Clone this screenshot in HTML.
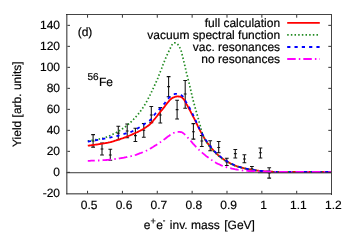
<!DOCTYPE html>
<html><head><meta charset="utf-8"><title>plot</title>
<style>
html,body{margin:0;padding:0;background:#fff;overflow:hidden}
svg{display:block}
text{font-family:"Liberation Sans",sans-serif;font-size:12px;fill:#000;stroke:#000;stroke-width:0.18px}
</style></head><body>
<svg style="will-change:transform" width="350" height="245" viewBox="0 0 350 245">
<rect width="350" height="245" fill="#fff"/>

<g stroke="#3a3a3a" stroke-width="1" fill="none">
<line x1="66.5" y1="172.72" x2="331.5" y2="172.72"/>
</g>
<g stroke="#111" stroke-width="1.05" fill="none">
<path d="M93.1,134.6V147.1M91.2,134.6h3.8M91.2,147.1h3.8M91.7,140.9h2.8"/>
<path d="M102.0,142.9V154.9M100.1,142.9h3.8M100.1,154.9h3.8M100.6,148.9h2.8"/>
<path d="M110.3,149.2V160.2M108.4,149.2h3.8M108.4,160.2h3.8M108.9,154.9h2.8"/>
<path d="M118.3,126.3V139.7M116.4,126.3h3.8M116.4,139.7h3.8M116.9,133.1h2.8"/>
<path d="M127.2,124.0V137.8M125.3,124.0h3.8M125.3,137.8h3.8M125.8,130.9h2.8"/>
<path d="M135.4,128.3V141.5M133.5,128.3h3.8M133.5,141.5h3.8M134.0,135.6h2.8"/>
<path d="M143.8,123.4V137.3M141.9,123.4h3.8M141.9,137.3h3.8M142.4,130.3h2.8"/>
<path d="M151.3,106.5V122.6M149.4,106.5h3.8M149.4,122.6h3.8M149.9,115.0h2.8"/>
<path d="M160.3,107.6V123.0M158.4,107.6h3.8M158.4,123.0h3.8M158.9,115.0h2.8"/>
<path d="M168.6,76.6V96.8M166.7,76.6h3.8M166.7,96.8h3.8M167.2,86.6h2.8"/>
<path d="M177.1,100.2V119.0M175.2,100.2h3.8M175.2,119.0h3.8M175.7,109.6h2.8"/>
<path d="M185.2,80.4V108.3M183.3,80.4h3.8M183.3,108.3h3.8M183.8,94.0h2.8"/>
<path d="M193.4,123.6V139.1M191.5,123.6h3.8M191.5,139.1h3.8M192.0,131.7h2.8"/>
<path d="M201.8,135.5V146.5M199.9,135.5h3.8M199.9,146.5h3.8M200.4,141.0h2.8"/>
<path d="M210.2,140.8V150.7M208.3,140.8h3.8M208.3,150.7h3.8M208.8,146.0h2.8"/>
<path d="M218.7,141.5V152.8M216.8,141.5h3.8M216.8,152.8h3.8M217.3,147.5h2.8"/>
<path d="M226.8,158.3V165.5M224.9,158.3h3.8M224.9,165.5h3.8M225.4,162.0h2.8"/>
<path d="M235.3,149.4V157.9M233.4,149.4h3.8M233.4,157.9h3.8M233.9,153.6h2.8"/>
<path d="M244.4,154.8V162.8M242.5,154.8h3.8M242.5,162.8h3.8M243.0,158.9h2.8"/>
<path d="M251.9,166.4V171.0M250.0,166.4h3.8M250.0,171.0h3.8M250.5,168.7h2.8"/>
<path d="M260.4,147.9V157.9M258.5,147.9h3.8M258.5,157.9h3.8M259.0,152.8h2.8"/>
<path d="M269.2,167.7V178.1M267.3,167.7h3.8M267.3,178.1h3.8M267.8,173.0h2.8"/>
</g>
<g fill="none" stroke-linejoin="round">
<path d="M87.8,145.7 L88.4,145.6 L89.0,145.6 L89.6,145.5 L90.2,145.4 L90.8,145.3 L91.5,145.2 L92.1,145.2 L92.7,145.1 L93.3,145.0 L93.9,144.9 L94.5,144.8 L95.1,144.7 L95.7,144.6 L96.3,144.6 L96.9,144.5 L97.6,144.4 L98.2,144.3 L98.8,144.2 L99.4,144.1 L100.0,144.0 L100.6,143.9 L101.2,143.8 L101.8,143.7 L102.4,143.6 L103.0,143.5 L103.6,143.4 L104.3,143.3 L104.9,143.2 L105.5,143.1 L106.1,143.0 L106.7,142.9 L107.3,142.8 L107.9,142.7 L108.5,142.5 L109.1,142.4 L109.7,142.3 L110.4,142.2 L111.0,142.0 L111.6,141.9 L112.2,141.7 L112.8,141.5 L113.4,141.3 L114.0,141.1 L114.6,140.9 L115.2,140.7 L115.8,140.5 L116.4,140.3 L117.1,140.1 L117.7,139.9 L118.3,139.7 L118.9,139.5 L119.5,139.3 L120.1,139.1 L120.7,138.9 L121.3,138.7 L121.9,138.5 L122.5,138.3 L123.2,138.1 L123.8,137.8 L124.4,137.6 L125.0,137.4 L125.6,137.2 L126.2,137.0 L126.8,136.7 L127.4,136.5 L128.0,136.3 L128.6,136.0 L129.2,135.7 L129.9,135.5 L130.5,135.2 L131.1,135.0 L131.7,134.7 L132.3,134.4 L132.9,134.1 L133.5,133.9 L134.1,133.6 L134.7,133.3 L135.3,133.0 L136.0,132.7 L136.6,132.5 L137.2,132.2 L137.8,131.9 L138.4,131.6 L139.0,131.3 L139.6,131.0 L140.2,130.7 L140.8,130.4 L141.4,130.0 L142.0,129.7 L142.7,129.3 L143.3,129.0 L143.9,128.6 L144.5,128.2 L145.1,127.8 L145.7,127.4 L146.3,127.0 L146.9,126.6 L147.5,126.2 L148.1,125.7 L148.8,125.2 L149.4,124.7 L150.0,124.2 L150.6,123.6 L151.2,123.0 L151.8,122.4 L152.4,121.7 L153.0,121.0 L153.6,120.2 L154.2,119.5 L154.8,118.8 L155.5,118.0 L156.1,117.2 L156.7,116.5 L157.3,115.7 L157.9,114.9 L158.5,114.1 L159.1,113.4 L159.7,112.6 L160.3,111.9 L160.9,111.1 L161.6,110.4 L162.2,109.6 L162.8,108.9 L163.4,108.1 L164.0,107.4 L164.6,106.6 L165.2,105.8 L165.8,105.0 L166.4,104.2 L167.0,103.4 L167.6,102.6 L168.3,101.9 L168.9,101.2 L169.5,100.4 L170.1,99.8 L170.7,99.2 L171.3,98.7 L171.9,98.3 L172.5,97.9 L173.1,97.6 L173.7,97.3 L174.4,97.1 L175.0,96.9 L175.6,96.7 L176.2,96.6 L176.8,96.5 L177.4,96.4 L178.0,96.4 L178.6,96.5 L179.2,96.5 L179.8,96.7 L180.4,96.8 L181.1,96.9 L181.7,97.3 L182.3,97.8 L182.9,98.4 L183.5,99.0 L184.1,99.8 L184.7,100.8 L185.3,101.9 L185.9,103.1 L186.5,104.2 L187.2,105.3 L187.8,106.4 L188.4,107.5 L189.0,108.7 L189.6,109.8 L190.2,110.9 L190.8,112.0 L191.4,113.2 L192.0,114.3 L192.6,115.5 L193.2,116.7 L193.9,117.9 L194.5,119.1 L195.1,120.3 L195.7,121.6 L196.3,122.9 L196.9,124.1 L197.5,125.4 L198.1,126.7 L198.7,127.9 L199.3,129.1 L200.0,130.3 L200.6,131.5 L201.2,132.6 L201.8,133.7 L202.4,134.8 L203.0,135.8 L203.6,136.9 L204.2,137.9 L204.8,139.0 L205.4,140.0 L206.0,140.9 L206.7,141.9 L207.3,142.8 L207.9,143.6 L208.5,144.4 L209.1,145.2 L209.7,146.0 L210.3,146.8 L210.9,147.6 L211.5,148.3 L212.1,149.0 L212.8,149.7 L213.4,150.4 L214.0,151.1 L214.6,151.7 L215.2,152.3 L215.8,152.9 L216.4,153.5 L217.0,154.1 L217.6,154.6 L218.2,155.2 L218.8,155.7 L219.5,156.2 L220.1,156.7 L220.7,157.2 L221.3,157.6 L221.9,158.1 L222.5,158.6 L223.1,159.0 L223.7,159.4 L224.3,159.8 L224.9,160.2 L225.6,160.6 L226.2,161.0 L226.8,161.3 L227.4,161.7 L228.0,162.1 L228.6,162.4 L229.2,162.7 L229.8,163.1 L230.4,163.4 L231.0,163.7 L231.6,164.0 L232.3,164.3 L232.9,164.6 L233.5,164.8 L234.1,165.1 L234.7,165.4 L235.3,165.6 L235.9,165.8 L236.5,166.1 L237.1,166.3 L237.7,166.5 L238.4,166.7 L239.0,166.9 L239.6,167.1 L240.2,167.2 L240.8,167.4 L241.4,167.6 L242.0,167.7 L242.6,167.9 L243.2,168.0 L243.8,168.2 L244.4,168.3 L245.1,168.5 L245.7,168.6 L246.3,168.8 L246.9,168.9 L247.5,169.0 L248.1,169.2 L248.7,169.3 L249.3,169.4 L249.9,169.5 L250.5,169.6 L251.2,169.7 L251.8,169.8 L252.4,169.9 L253.0,170.0 L253.6,170.1 L254.2,170.2 L254.8,170.3 L255.4,170.4 L256.0,170.4 L256.6,170.5 L257.2,170.6 L257.9,170.7 L258.5,170.7 L259.1,170.8 L259.7,170.9 L260.3,170.9 L260.9,171.0 L261.5,171.1 L262.1,171.1 L262.7,171.2 L263.3,171.2 L264.0,171.3 L264.6,171.3 L265.2,171.4 L265.8,171.4 L266.4,171.5 L267.0,171.5 L267.6,171.6 L268.2,171.6 L268.8,171.6 L269.4,171.6 L270.0,171.7 L270.7,171.7 L271.3,171.7 L271.9,171.7 L272.5,171.7 L273.1,171.8 L273.7,171.8 L274.3,171.8 L274.9,171.8 L275.5,171.8 L276.1,171.8 L276.8,171.8 L277.4,171.8 L278.0,171.8 L278.6,171.8 L279.2,171.8 L279.8,171.8 L280.4,171.8 L281.0,171.8 L281.6,171.8 L282.2,171.8 L282.8,171.8 L283.5,171.8 L284.1,171.8 L284.7,171.8 L285.3,171.8 L285.9,171.8 L286.5,171.8 L287.1,171.8 L287.7,171.8 L288.3,171.8 L288.9,171.8 L289.6,171.8 L290.2,171.8 L290.8,171.8 L291.4,171.8 L292.0,171.8 L292.6,171.8 L293.2,171.8 L293.8,171.8 L294.4,171.8 L295.0,171.8 L295.6,171.8 L296.3,171.8 L296.9,171.8 L297.5,171.8 L298.1,171.8 L298.7,171.8 L299.3,171.8 L299.9,171.8 L300.5,171.8 L301.1,171.8 L301.7,171.8 L302.4,171.8 L303.0,171.8 L303.6,171.8 L304.2,171.8 L304.8,171.8 L305.4,171.8 L306.0,171.8 L306.6,171.8 L307.2,171.8 L307.8,171.8 L308.4,171.8 L309.1,171.8 L309.7,171.8 L310.3,171.8 L310.9,171.8 L311.5,171.8 L312.1,171.8 L312.7,171.8 L313.3,171.8 L313.9,171.8 L314.5,171.8 L315.2,171.8 L315.8,171.8 L316.4,171.8 L317.0,171.8 L317.6,171.8 L318.2,171.8 L318.8,171.8 L319.4,171.8 L320.0,171.8 L320.6,171.8 L321.2,171.8 L321.9,171.8 L322.5,171.8 L323.1,171.8 L323.7,171.8 L324.3,171.8 L324.9,171.8 L325.5,171.8 L326.1,171.8 L326.7,171.8 L327.3,171.8 L328.0,171.8 L328.6,171.8 L329.2,171.8 L329.8,171.8 L330.4,171.8 L331.0,171.8" stroke="#ff0000" stroke-width="1.8"/>
<path d="M87.8,141.0 L88.4,140.9 L89.0,140.8 L89.6,140.7 L90.2,140.6 L90.8,140.5 L91.5,140.4 L92.1,140.3 L92.7,140.2 L93.3,140.1 L93.9,140.0 L94.5,139.9 L95.1,139.8 L95.7,139.7 L96.3,139.6 L96.9,139.5 L97.6,139.3 L98.2,139.2 L98.8,139.1 L99.4,139.0 L100.0,138.9 L100.6,138.8 L101.2,138.6 L101.8,138.5 L102.4,138.3 L103.0,138.2 L103.6,138.0 L104.3,137.8 L104.9,137.6 L105.5,137.4 L106.1,137.2 L106.7,137.0 L107.3,136.8 L107.9,136.5 L108.5,136.3 L109.1,136.0 L109.7,135.7 L110.4,135.5 L111.0,135.2 L111.6,134.9 L112.2,134.6 L112.8,134.3 L113.4,134.0 L114.0,133.7 L114.6,133.4 L115.2,133.0 L115.8,132.7 L116.4,132.4 L117.1,132.0 L117.7,131.7 L118.3,131.4 L118.9,131.0 L119.5,130.7 L120.1,130.3 L120.7,129.9 L121.3,129.5 L121.9,129.1 L122.5,128.7 L123.2,128.3 L123.8,127.9 L124.4,127.4 L125.0,127.0 L125.6,126.5 L126.2,126.0 L126.8,125.5 L127.4,125.0 L128.0,124.5 L128.6,124.0 L129.2,123.5 L129.9,122.9 L130.5,122.4 L131.1,121.8 L131.7,121.2 L132.3,120.6 L132.9,120.0 L133.5,119.4 L134.1,118.7 L134.7,118.1 L135.3,117.4 L136.0,116.7 L136.6,116.0 L137.2,115.3 L137.8,114.6 L138.4,113.9 L139.0,113.1 L139.6,112.3 L140.2,111.5 L140.8,110.7 L141.4,109.9 L142.0,109.0 L142.7,108.1 L143.3,107.2 L143.9,106.3 L144.5,105.3 L145.1,104.3 L145.7,103.3 L146.3,102.2 L146.9,101.1 L147.5,99.9 L148.1,98.7 L148.8,97.5 L149.4,96.3 L150.0,95.1 L150.6,93.8 L151.2,92.6 L151.8,91.4 L152.4,90.1 L153.0,88.8 L153.6,87.5 L154.2,86.2 L154.8,84.9 L155.5,83.6 L156.1,82.2 L156.7,80.8 L157.3,79.4 L157.9,78.0 L158.5,76.5 L159.1,74.9 L159.7,73.3 L160.3,71.7 L160.9,70.1 L161.6,68.5 L162.2,66.9 L162.8,65.3 L163.4,63.8 L164.0,62.3 L164.6,60.8 L165.2,59.4 L165.8,57.9 L166.4,56.5 L167.0,55.1 L167.6,53.7 L168.3,52.4 L168.9,51.1 L169.5,49.8 L170.1,48.6 L170.7,47.3 L171.3,46.1 L171.9,45.0 L172.5,44.3 L173.1,43.6 L173.7,43.0 L174.4,42.8 L175.0,42.9 L175.6,43.1 L176.2,43.3 L176.8,43.7 L177.4,44.1 L178.0,44.7 L178.6,45.5 L179.2,46.5 L179.8,47.6 L180.4,48.9 L181.1,50.7 L181.7,52.9 L182.3,55.3 L182.9,57.7 L183.5,60.2 L184.1,62.6 L184.7,65.1 L185.3,67.7 L185.9,70.4 L186.5,73.0 L187.2,75.5 L187.8,78.0 L188.4,80.4 L189.0,82.8 L189.6,85.3 L190.2,87.8 L190.8,90.4 L191.4,93.0 L192.0,95.5 L192.6,98.1 L193.2,100.6 L193.9,103.0 L194.5,105.3 L195.1,107.5 L195.7,109.6 L196.3,111.8 L196.9,113.9 L197.5,116.0 L198.1,118.1 L198.7,120.2 L199.3,122.4 L200.0,124.7 L200.6,127.1 L201.2,129.4 L201.8,131.5 L202.4,133.4 L203.0,135.0 L203.6,136.5 L204.2,137.8 L204.8,139.1 L205.4,140.3 L206.0,141.4 L206.7,142.4 L207.3,143.4 L207.9,144.3 L208.5,145.1 L209.1,145.9 L209.7,146.7 L210.3,147.5 L210.9,148.2 L211.5,148.9 L212.1,149.6 L212.8,150.3 L213.4,150.9 L214.0,151.6 L214.6,152.2 L215.2,152.8 L215.8,153.4 L216.4,153.9 L217.0,154.5 L217.6,155.0 L218.2,155.6 L218.8,156.1 L219.5,156.6 L220.1,157.1 L220.7,157.5 L221.3,158.0 L221.9,158.5 L222.5,158.9 L223.1,159.3 L223.7,159.7 L224.3,160.1 L224.9,160.5 L225.6,160.9 L226.2,161.3 L226.8,161.7 L227.4,162.0 L228.0,162.3 L228.6,162.7 L229.2,163.0 L229.8,163.3 L230.4,163.6 L231.0,164.0 L231.6,164.3 L232.3,164.5 L232.9,164.8 L233.5,165.1 L234.1,165.4 L234.7,165.6 L235.3,165.8 L235.9,166.1 L236.5,166.3 L237.1,166.5 L237.7,166.7 L238.4,166.8 L239.0,167.0 L239.6,167.2 L240.2,167.3 L240.8,167.5 L241.4,167.6 L242.0,167.8 L242.6,167.9 L243.2,168.1 L243.8,168.2 L244.4,168.4 L245.1,168.5 L245.7,168.6 L246.3,168.8 L246.9,168.9 L247.5,169.0 L248.1,169.2 L248.7,169.3 L249.3,169.4 L249.9,169.5 L250.5,169.6 L251.2,169.7 L251.8,169.8 L252.4,169.9 L253.0,170.0 L253.6,170.1 L254.2,170.2 L254.8,170.3 L255.4,170.4 L256.0,170.4 L256.6,170.5 L257.2,170.6 L257.9,170.7 L258.5,170.7 L259.1,170.8 L259.7,170.9 L260.3,170.9 L260.9,171.0 L261.5,171.1 L262.1,171.1 L262.7,171.2 L263.3,171.2 L264.0,171.3 L264.6,171.3 L265.2,171.4 L265.8,171.4 L266.4,171.5 L267.0,171.5 L267.6,171.6 L268.2,171.6 L268.8,171.6 L269.4,171.6 L270.0,171.7 L270.7,171.7 L271.3,171.7 L271.9,171.7 L272.5,171.7 L273.1,171.8 L273.7,171.8 L274.3,171.8 L274.9,171.8 L275.5,171.8 L276.1,171.8 L276.8,171.8 L277.4,171.8 L278.0,171.8 L278.6,171.8 L279.2,171.8 L279.8,171.8 L280.4,171.8 L281.0,171.8 L281.6,171.8 L282.2,171.8 L282.8,171.8 L283.5,171.8 L284.1,171.8 L284.7,171.8 L285.3,171.8 L285.9,171.8 L286.5,171.8 L287.1,171.8 L287.7,171.8 L288.3,171.8 L288.9,171.8 L289.6,171.8 L290.2,171.8 L290.8,171.8 L291.4,171.8 L292.0,171.8 L292.6,171.8 L293.2,171.8 L293.8,171.8 L294.4,171.8 L295.0,171.8 L295.6,171.8 L296.3,171.8 L296.9,171.8 L297.5,171.8 L298.1,171.8 L298.7,171.8 L299.3,171.8 L299.9,171.8 L300.5,171.8 L301.1,171.8 L301.7,171.8 L302.4,171.8 L303.0,171.8 L303.6,171.8 L304.2,171.8 L304.8,171.8 L305.4,171.8 L306.0,171.8 L306.6,171.8 L307.2,171.8 L307.8,171.8 L308.4,171.8 L309.1,171.8 L309.7,171.8 L310.3,171.8 L310.9,171.8 L311.5,171.8 L312.1,171.8 L312.7,171.8 L313.3,171.8 L313.9,171.8 L314.5,171.8 L315.2,171.8 L315.8,171.8 L316.4,171.8 L317.0,171.8 L317.6,171.8 L318.2,171.8 L318.8,171.8 L319.4,171.8 L320.0,171.8 L320.6,171.8 L321.2,171.8 L321.9,171.8 L322.5,171.8 L323.1,171.8 L323.7,171.8 L324.3,171.8 L324.9,171.8 L325.5,171.8 L326.1,171.8 L326.7,171.8 L327.3,171.8 L328.0,171.8 L328.6,171.8 L329.2,171.8 L329.8,171.8 L330.4,171.8 L331.0,171.8" stroke="#228b22" stroke-width="1.7" stroke-dasharray="1.5 2.16"/>
<path d="M87.8,141.6 L88.4,141.5 L89.0,141.4 L89.6,141.3 L90.2,141.2 L90.8,141.1 L91.5,141.0 L92.1,140.9 L92.7,140.8 L93.3,140.7 L93.9,140.6 L94.5,140.5 L95.1,140.4 L95.7,140.3 L96.3,140.1 L96.9,140.0 L97.6,139.9 L98.2,139.8 L98.8,139.7 L99.4,139.6 L100.0,139.5 L100.6,139.4 L101.2,139.2 L101.8,139.1 L102.4,139.0 L103.0,138.9 L103.6,138.8 L104.3,138.7 L104.9,138.5 L105.5,138.4 L106.1,138.3 L106.7,138.2 L107.3,138.1 L107.9,138.0 L108.5,137.8 L109.1,137.7 L109.7,137.6 L110.4,137.5 L111.0,137.3 L111.6,137.2 L112.2,137.1 L112.8,136.9 L113.4,136.8 L114.0,136.7 L114.6,136.5 L115.2,136.4 L115.8,136.3 L116.4,136.1 L117.1,136.0 L117.7,135.8 L118.3,135.6 L118.9,135.5 L119.5,135.3 L120.1,135.1 L120.7,134.9 L121.3,134.7 L121.9,134.5 L122.5,134.3 L123.2,134.2 L123.8,134.0 L124.4,133.8 L125.0,133.6 L125.6,133.5 L126.2,133.3 L126.8,133.1 L127.4,133.0 L128.0,132.8 L128.6,132.6 L129.2,132.5 L129.9,132.3 L130.5,132.1 L131.1,131.8 L131.7,131.6 L132.3,131.3 L132.9,131.0 L133.5,130.7 L134.1,130.4 L134.7,130.1 L135.3,129.7 L136.0,129.4 L136.6,129.0 L137.2,128.7 L137.8,128.3 L138.4,127.9 L139.0,127.6 L139.6,127.2 L140.2,126.8 L140.8,126.4 L141.4,126.0 L142.0,125.6 L142.7,125.2 L143.3,124.8 L143.9,124.4 L144.5,124.0 L145.1,123.6 L145.7,123.2 L146.3,122.8 L146.9,122.5 L147.5,122.1 L148.1,121.7 L148.8,121.2 L149.4,120.8 L150.0,120.3 L150.6,119.7 L151.2,119.1 L151.8,118.4 L152.4,117.6 L153.0,116.7 L153.6,115.9 L154.2,115.1 L154.8,114.3 L155.5,113.5 L156.1,112.9 L156.7,112.2 L157.3,111.5 L157.9,110.9 L158.5,110.3 L159.1,109.6 L159.7,109.0 L160.3,108.3 L160.9,107.6 L161.6,107.0 L162.2,106.3 L162.8,105.6 L163.4,104.9 L164.0,104.1 L164.6,103.4 L165.2,102.6 L165.8,101.7 L166.4,100.8 L167.0,100.0 L167.6,99.2 L168.3,98.5 L168.9,97.9 L169.5,97.2 L170.1,96.7 L170.7,96.2 L171.3,95.7 L171.9,95.4 L172.5,95.0 L173.1,94.6 L173.7,94.3 L174.4,94.1 L175.0,93.9 L175.6,93.9 L176.2,93.9 L176.8,93.9 L177.4,94.0 L178.0,94.1 L178.6,94.1 L179.2,94.2 L179.8,94.4 L180.4,94.7 L181.1,95.1 L181.7,95.5 L182.3,95.9 L182.9,96.6 L183.5,97.5 L184.1,98.5 L184.7,99.6 L185.3,100.6 L185.9,101.7 L186.5,102.7 L187.2,103.7 L187.8,104.7 L188.4,105.8 L189.0,106.8 L189.6,107.9 L190.2,109.1 L190.8,110.2 L191.4,111.4 L192.0,112.7 L192.6,113.9 L193.2,115.2 L193.9,116.5 L194.5,117.9 L195.1,119.3 L195.7,120.6 L196.3,122.0 L196.9,123.4 L197.5,124.7 L198.1,126.0 L198.7,127.2 L199.3,128.4 L200.0,129.5 L200.6,130.7 L201.2,131.8 L201.8,133.0 L202.4,134.1 L203.0,135.2 L203.6,136.3 L204.2,137.3 L204.8,138.4 L205.4,139.4 L206.0,140.4 L206.7,141.3 L207.3,142.2 L207.9,143.1 L208.5,144.0 L209.1,144.8 L209.7,145.6 L210.3,146.4 L210.9,147.1 L211.5,147.9 L212.1,148.6 L212.8,149.3 L213.4,150.0 L214.0,150.7 L214.6,151.3 L215.2,152.0 L215.8,152.6 L216.4,153.2 L217.0,153.8 L217.6,154.3 L218.2,154.9 L218.8,155.4 L219.5,155.9 L220.1,156.4 L220.7,156.9 L221.3,157.4 L221.9,157.9 L222.5,158.3 L223.1,158.7 L223.7,159.2 L224.3,159.6 L224.9,160.0 L225.6,160.4 L226.2,160.8 L226.8,161.1 L227.4,161.5 L228.0,161.9 L228.6,162.2 L229.2,162.6 L229.8,162.9 L230.4,163.2 L231.0,163.5 L231.6,163.8 L232.3,164.1 L232.9,164.4 L233.5,164.7 L234.1,165.0 L234.7,165.3 L235.3,165.5 L235.9,165.7 L236.5,166.0 L237.1,166.2 L237.7,166.4 L238.4,166.6 L239.0,166.8 L239.6,167.0 L240.2,167.1 L240.8,167.3 L241.4,167.5 L242.0,167.6 L242.6,167.8 L243.2,167.9 L243.8,168.1 L244.4,168.2 L245.1,168.4 L245.7,168.5 L246.3,168.7 L246.9,168.8 L247.5,168.9 L248.1,169.1 L248.7,169.2 L249.3,169.3 L249.9,169.4 L250.5,169.5 L251.2,169.6 L251.8,169.7 L252.4,169.8 L253.0,169.9 L253.6,170.0 L254.2,170.1 L254.8,170.2 L255.4,170.3 L256.0,170.3 L256.6,170.4 L257.2,170.5 L257.9,170.6 L258.5,170.6 L259.1,170.7 L259.7,170.8 L260.3,170.8 L260.9,170.9 L261.5,170.9 L262.1,171.0 L262.7,171.1 L263.3,171.1 L264.0,171.2 L264.6,171.2 L265.2,171.3 L265.8,171.3 L266.4,171.4 L267.0,171.4 L267.6,171.5 L268.2,171.5 L268.8,171.6 L269.4,171.6 L270.0,171.6 L270.7,171.6 L271.3,171.7 L271.9,171.7 L272.5,171.7 L273.1,171.7 L273.7,171.7 L274.3,171.8 L274.9,171.8 L275.5,171.8 L276.1,171.8 L276.8,171.8 L277.4,171.8 L278.0,171.8 L278.6,171.8 L279.2,171.8 L279.8,171.8 L280.4,171.8 L281.0,171.8 L281.6,171.8 L282.2,171.8 L282.8,171.8 L283.5,171.8 L284.1,171.8 L284.7,171.8 L285.3,171.8 L285.9,171.8 L286.5,171.8 L287.1,171.8 L287.7,171.8 L288.3,171.8 L288.9,171.8 L289.6,171.8 L290.2,171.8 L290.8,171.8 L291.4,171.8 L292.0,171.8 L292.6,171.8 L293.2,171.8 L293.8,171.8 L294.4,171.8 L295.0,171.8 L295.6,171.8 L296.3,171.8 L296.9,171.8 L297.5,171.8 L298.1,171.8 L298.7,171.8 L299.3,171.8 L299.9,171.8 L300.5,171.8 L301.1,171.8 L301.7,171.8 L302.4,171.8 L303.0,171.8 L303.6,171.8 L304.2,171.8 L304.8,171.8 L305.4,171.8 L306.0,171.8 L306.6,171.8 L307.2,171.8 L307.8,171.8 L308.4,171.8 L309.1,171.8 L309.7,171.8 L310.3,171.8 L310.9,171.8 L311.5,171.8 L312.1,171.8 L312.7,171.8 L313.3,171.8 L313.9,171.8 L314.5,171.8 L315.2,171.8 L315.8,171.8 L316.4,171.8 L317.0,171.8 L317.6,171.8 L318.2,171.8 L318.8,171.8 L319.4,171.8 L320.0,171.8 L320.6,171.8 L321.2,171.8 L321.9,171.8 L322.5,171.8 L323.1,171.8 L323.7,171.8 L324.3,171.8 L324.9,171.8 L325.5,171.8 L326.1,171.8 L326.7,171.8 L327.3,171.8 L328.0,171.8 L328.6,171.8 L329.2,171.8 L329.8,171.8 L330.4,171.8 L331.0,171.8" stroke="#0000ff" stroke-width="1.8" stroke-dasharray="3.2 4.1"/>
<path d="M87.8,160.8 L88.4,160.8 L89.0,160.8 L89.6,160.8 L90.2,160.8 L90.8,160.7 L91.5,160.7 L92.1,160.7 L92.7,160.7 L93.3,160.7 L93.9,160.7 L94.5,160.6 L95.1,160.6 L95.7,160.6 L96.3,160.6 L96.9,160.5 L97.6,160.5 L98.2,160.5 L98.8,160.5 L99.4,160.4 L100.0,160.4 L100.6,160.4 L101.2,160.3 L101.8,160.3 L102.4,160.3 L103.0,160.2 L103.6,160.2 L104.3,160.1 L104.9,160.1 L105.5,160.1 L106.1,160.0 L106.7,160.0 L107.3,159.9 L107.9,159.9 L108.5,159.8 L109.1,159.7 L109.7,159.7 L110.4,159.6 L111.0,159.6 L111.6,159.5 L112.2,159.4 L112.8,159.4 L113.4,159.3 L114.0,159.2 L114.6,159.1 L115.2,159.0 L115.8,159.0 L116.4,158.9 L117.1,158.8 L117.7,158.7 L118.3,158.6 L118.9,158.5 L119.5,158.4 L120.1,158.3 L120.7,158.2 L121.3,158.1 L121.9,158.0 L122.5,157.9 L123.2,157.8 L123.8,157.7 L124.4,157.5 L125.0,157.4 L125.6,157.3 L126.2,157.2 L126.8,157.1 L127.4,156.9 L128.0,156.8 L128.6,156.7 L129.2,156.5 L129.9,156.4 L130.5,156.3 L131.1,156.1 L131.7,156.0 L132.3,155.8 L132.9,155.6 L133.5,155.5 L134.1,155.3 L134.7,155.1 L135.3,155.0 L136.0,154.8 L136.6,154.6 L137.2,154.4 L137.8,154.2 L138.4,153.9 L139.0,153.7 L139.6,153.4 L140.2,153.2 L140.8,153.0 L141.4,152.8 L142.0,152.5 L142.7,152.3 L143.3,152.1 L143.9,151.8 L144.5,151.6 L145.1,151.4 L145.7,151.1 L146.3,150.8 L146.9,150.5 L147.5,150.2 L148.1,149.9 L148.8,149.5 L149.4,149.2 L150.0,148.8 L150.6,148.4 L151.2,148.1 L151.8,147.7 L152.4,147.3 L153.0,147.0 L153.6,146.6 L154.2,146.2 L154.8,145.8 L155.5,145.4 L156.1,145.1 L156.7,144.7 L157.3,144.3 L157.9,143.9 L158.5,143.5 L159.1,143.0 L159.7,142.6 L160.3,142.2 L160.9,141.8 L161.6,141.3 L162.2,140.9 L162.8,140.5 L163.4,140.0 L164.0,139.6 L164.6,139.1 L165.2,138.7 L165.8,138.2 L166.4,137.7 L167.0,137.2 L167.6,136.8 L168.3,136.3 L168.9,135.9 L169.5,135.5 L170.1,135.0 L170.7,134.6 L171.3,134.2 L171.9,133.8 L172.5,133.5 L173.1,133.2 L173.7,132.9 L174.4,132.7 L175.0,132.5 L175.6,132.3 L176.2,132.2 L176.8,132.1 L177.4,131.9 L178.0,131.9 L178.6,131.8 L179.2,131.8 L179.8,131.9 L180.4,132.0 L181.1,132.1 L181.7,132.2 L182.3,132.5 L182.9,132.9 L183.5,133.4 L184.1,133.9 L184.7,134.4 L185.3,135.0 L185.9,135.6 L186.5,136.2 L187.2,136.9 L187.8,137.6 L188.4,138.3 L189.0,138.9 L189.6,139.6 L190.2,140.3 L190.8,141.0 L191.4,141.7 L192.0,142.4 L192.6,143.1 L193.2,143.8 L193.9,144.5 L194.5,145.2 L195.1,145.8 L195.7,146.5 L196.3,147.1 L196.9,147.7 L197.5,148.3 L198.1,148.9 L198.7,149.5 L199.3,150.1 L200.0,150.7 L200.6,151.2 L201.2,151.8 L201.8,152.3 L202.4,152.9 L203.0,153.4 L203.6,153.9 L204.2,154.4 L204.8,154.9 L205.4,155.4 L206.0,155.9 L206.7,156.4 L207.3,156.8 L207.9,157.3 L208.5,157.7 L209.1,158.2 L209.7,158.6 L210.3,159.0 L210.9,159.5 L211.5,159.9 L212.1,160.3 L212.8,160.7 L213.4,161.2 L214.0,161.6 L214.6,161.9 L215.2,162.3 L215.8,162.7 L216.4,163.0 L217.0,163.4 L217.6,163.7 L218.2,164.0 L218.8,164.2 L219.5,164.5 L220.1,164.8 L220.7,165.1 L221.3,165.3 L221.9,165.6 L222.5,165.8 L223.1,166.0 L223.7,166.3 L224.3,166.5 L224.9,166.7 L225.6,166.9 L226.2,167.1 L226.8,167.3 L227.4,167.5 L228.0,167.6 L228.6,167.8 L229.2,167.9 L229.8,168.1 L230.4,168.2 L231.0,168.4 L231.6,168.5 L232.3,168.7 L232.9,168.8 L233.5,168.9 L234.1,169.0 L234.7,169.2 L235.3,169.3 L235.9,169.4 L236.5,169.5 L237.1,169.6 L237.7,169.7 L238.4,169.8 L239.0,169.9 L239.6,170.0 L240.2,170.1 L240.8,170.2 L241.4,170.3 L242.0,170.4 L242.6,170.4 L243.2,170.5 L243.8,170.6 L244.4,170.7 L245.1,170.7 L245.7,170.8 L246.3,170.8 L246.9,170.8 L247.5,170.9 L248.1,170.9 L248.7,171.0 L249.3,171.0 L249.9,171.0 L250.5,171.1 L251.2,171.1 L251.8,171.1 L252.4,171.2 L253.0,171.2 L253.6,171.2 L254.2,171.2 L254.8,171.3 L255.4,171.3 L256.0,171.3 L256.6,171.3 L257.2,171.3 L257.9,171.4 L258.5,171.4 L259.1,171.4 L259.7,171.4 L260.3,171.4 L260.9,171.4 L261.5,171.4 L262.1,171.4 L262.7,171.5 L263.3,171.5 L264.0,171.5 L264.6,171.5 L265.2,171.5 L265.8,171.6 L266.4,171.6 L267.0,171.6 L267.6,171.6 L268.2,171.7 L268.8,171.7 L269.4,171.7 L270.0,171.7 L270.7,171.7 L271.3,171.7 L271.9,171.8 L272.5,171.8 L273.1,171.8 L273.7,171.8 L274.3,171.8 L274.9,171.8 L275.5,171.8 L276.1,171.8 L276.8,171.8 L277.4,171.8 L278.0,171.8 L278.6,171.8 L279.2,171.8 L279.8,171.8 L280.4,171.8 L281.0,171.8 L281.6,171.8 L282.2,171.8 L282.8,171.8 L283.5,171.8 L284.1,171.8 L284.7,171.8 L285.3,171.8 L285.9,171.8 L286.5,171.8 L287.1,171.8 L287.7,171.8 L288.3,171.8 L288.9,171.8 L289.6,171.8 L290.2,171.8 L290.8,171.8 L291.4,171.8 L292.0,171.8 L292.6,171.8 L293.2,171.8 L293.8,171.8 L294.4,171.8 L295.0,171.8 L295.6,171.8 L296.3,171.8 L296.9,171.8 L297.5,171.8 L298.1,171.8 L298.7,171.8 L299.3,171.8 L299.9,171.8 L300.5,171.8 L301.1,171.8 L301.7,171.8 L302.4,171.8 L303.0,171.8 L303.6,171.8 L304.2,171.8 L304.8,171.8 L305.4,171.8 L306.0,171.8 L306.6,171.8 L307.2,171.8 L307.8,171.8 L308.4,171.8 L309.1,171.8 L309.7,171.8 L310.3,171.8 L310.9,171.8 L311.5,171.8 L312.1,171.8 L312.7,171.8 L313.3,171.8 L313.9,171.8 L314.5,171.8 L315.2,171.8 L315.8,171.8 L316.4,171.8 L317.0,171.8 L317.6,171.8 L318.2,171.8 L318.8,171.8 L319.4,171.8 L320.0,171.8 L320.6,171.8 L321.2,171.8 L321.9,171.8 L322.5,171.8 L323.1,171.8 L323.7,171.8 L324.3,171.8 L324.9,171.8 L325.5,171.8 L326.1,171.8 L326.7,171.8 L327.3,171.8 L328.0,171.8 L328.6,171.8 L329.2,171.8 L329.8,171.8 L330.4,171.8 L331.0,171.8" stroke="#ff00ff" stroke-width="1.8" stroke-dasharray="8.6 3.2 1.5 3.1" stroke-dashoffset="1.6"/>
</g>
<line x1="258" y1="172.72" x2="331.5" y2="172.72" stroke="#3a2a3a" stroke-width="1" opacity="0.8"/>
<g stroke="#444" stroke-width="1" shape-rendering="crispEdges" fill="none">
<path d="M66.0,14.5H331.5V194.5"/>
</g>
<g stroke="#262626" stroke-width="1" fill="none">
<path d="M66.85,14.0V194.35"/>
<path d="M66.35,193.85H332.0"/>
</g>
<g stroke="#333" stroke-width="1" fill="none">
<path d="M87.55,193.5v-2.7M87.55,15.0v2.7"/>
<path d="M122.41,193.5v-2.7M122.41,15.0v2.7"/>
<path d="M157.27,193.5v-2.7M157.27,15.0v2.7"/>
<path d="M192.13,193.5v-2.7M192.13,15.0v2.7"/>
<path d="M226.99,193.5v-2.7M226.99,15.0v2.7"/>
<path d="M261.85,193.5v-2.7M261.85,15.0v2.7"/>
<path d="M296.71,193.5v-2.7M296.71,15.0v2.7"/>
<path d="M67.4,172.35h2.6M331.0,172.35h-2.7"/>
<path d="M67.4,151.35h2.6M331.0,151.35h-2.7"/>
<path d="M67.4,130.35h2.6M331.0,130.35h-2.7"/>
<path d="M67.4,109.35h2.6M331.0,109.35h-2.7"/>
<path d="M67.4,88.35h2.6M331.0,88.35h-2.7"/>
<path d="M67.4,67.35h2.6M331.0,67.35h-2.7"/>
<path d="M67.4,46.35h2.6M331.0,46.35h-2.7"/>
<path d="M67.4,25.35h2.6M331.0,25.35h-2.7"/>
</g>
<g text-rendering="geometricPrecision">
<text x="89.1" y="209.4" text-anchor="middle">0.5</text>
<text x="124.0" y="209.4" text-anchor="middle">0.6</text>
<text x="158.9" y="209.4" text-anchor="middle">0.7</text>
<text x="193.8" y="209.4" text-anchor="middle">0.8</text>
<text x="228.7" y="209.4" text-anchor="middle">0.9</text>
<text x="263.6" y="209.4" text-anchor="middle">1</text>
<text x="298.4" y="209.4" text-anchor="middle">1.1</text>
<text x="333.3" y="209.4" text-anchor="middle">1.2</text>
<text x="60" y="197.4" text-anchor="end">-20</text>
<text x="60" y="176.4" text-anchor="end">0</text>
<text x="60" y="155.3" text-anchor="end">20</text>
<text x="60" y="134.2" text-anchor="end">40</text>
<text x="60" y="113.2" text-anchor="end">60</text>
<text x="60" y="92.1" text-anchor="end">80</text>
<text x="60" y="71.1" text-anchor="end">100</text>
<text x="60" y="50.0" text-anchor="end">120</text>
<text x="60" y="28.9" text-anchor="end">140</text>
<text x="143.8" y="229.4">e<tspan font-size="9.2" dy="-5.5">+</tspan><tspan dy="5.5" dx="0.3">e</tspan><tspan font-size="8" dy="-6.5">-</tspan><tspan dy="6.5" dx="1.0"> inv. mass</tspan><tspan dx="1.3"> [GeV]</tspan></text>
<text transform="translate(21.3,104.2) rotate(-90)" text-anchor="middle">Yield [arb. units]</text>
<text x="77.7" y="36">(d)</text>
<text x="87.4" y="86.4"><tspan font-size="10" dy="-6">56</tspan><tspan dy="6" dx="0.4">Fe</tspan></text>
<text x="280.1" y="26.8" font-size="12.25" text-anchor="end">full calculation</text>
<line x1="287.2" y1="22.85" x2="319.8" y2="22.85" stroke="#ff0000" stroke-width="1.8"/>
<text x="280.1" y="38.7" font-size="12.25" text-anchor="end">vacuum spectral function</text>
<line x1="287.2" y1="34.8" x2="319.8" y2="34.8" stroke="#228b22" stroke-width="1.7" stroke-dasharray="1.5 2.16"/>
<text x="280.1" y="50.9" font-size="12.25" text-anchor="end">vac. resonances</text>
<line x1="287.2" y1="47.0" x2="319.8" y2="47.0" stroke="#0000ff" stroke-width="1.8" stroke-dasharray="3.2 4.1"/>
<text x="280.1" y="62.9" font-size="12.25" text-anchor="end">no resonances</text>
<line x1="287.2" y1="59.0" x2="319.8" y2="59.0" stroke="#ff00ff" stroke-width="1.8" stroke-dasharray="8.5 3.1 1.5 3.0"/>
</g>
</svg></body></html>
